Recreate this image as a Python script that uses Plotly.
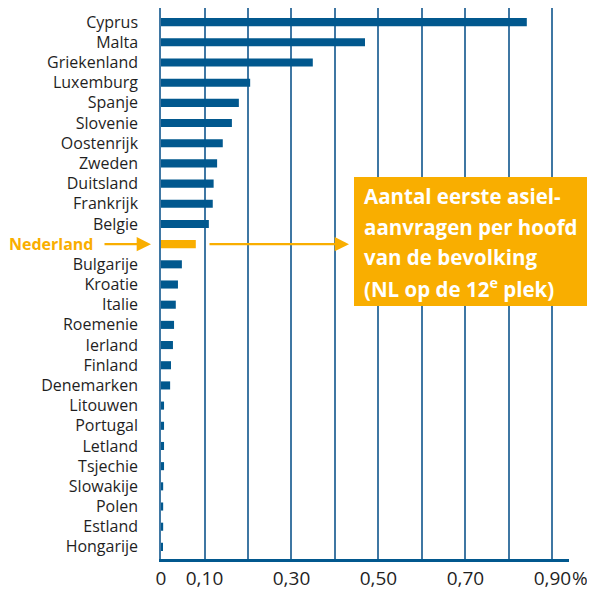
import plotly.graph_objects as go

countries = ["Cyprus", "Malta", "Griekenland", "Luxemburg", "Spanje", "Slovenie",
             "Oostenrijk", "Zweden", "Duitsland", "Frankrijk", "Belgie", "Nederland",
             "Bulgarije", "Kroatie", "Italie", "Roemenie", "Ierland", "Finland",
             "Denemarken", "Litouwen", "Portugal", "Letland", "Tsjechie", "Slowakije",
             "Polen", "Estland", "Hongarije"]
values = [0.841, 0.469, 0.349, 0.205, 0.179, 0.163,
          0.142, 0.129, 0.121, 0.119, 0.110, 0.080,
          0.048, 0.039, 0.034, 0.030, 0.0275, 0.023,
          0.021, 0.007, 0.007, 0.007, 0.007, 0.005,
          0.005, 0.005, 0.004]
tick_vals = [0, 0.1, 0.3, 0.5, 0.7, 0.9]
tick_text = ["0", "0,10", "0,30", "0,50", "0,70", "0,90"]
box_lines = ["Aantal eerste asiel-", "aanvragen per hoofd", "van de bevolking",
             "(NL op de 12<sup>e</sup> plek)"]
highlight = "Nederland"

BLUE = "#01588E"
GRID = "#3F77A3"
ORANGE = "#F9AE00"
TEXT = "#1f1f1f"
FONT = "Open Sans"

colors = [ORANGE if c == highlight else BLUE for c in countries]
ylabels = ["" if c == highlight else c for c in countries]

fig = go.Figure(go.Bar(
    x=values, y=countries, orientation="h", marker=dict(color=colors, line=dict(width=0)),
    width=0.4, hoverinfo="skip"))

# page has an 8px body margin: figure origin is at page (8, 8)
OFF = 8
W, H = 587, 582
L, R, T, B = 161 - OFF, 26, 0, 31
fig.update_layout(
    width=W, height=H, margin=dict(l=L, r=R, t=T, b=B),
    paper_bgcolor="white", plot_bgcolor="white", showlegend=False,
    font=dict(family=FONT, color=TEXT, size=16),
    xaxis=dict(range=[0, 0.938], tickvals=tick_vals, ticktext=tick_text,
               showgrid=True, gridcolor=GRID, gridwidth=1.5, zeroline=False,
               showline=True, linecolor=BLUE, linewidth=2.5, ticks="",
               tickfont=dict(size=19, family=FONT, color=TEXT),
               minor=dict(dtick=0.1, tick0=0, showgrid=True, gridcolor=GRID, gridwidth=1.5)),
    yaxis=dict(categoryorder="array", categoryarray=countries,
               tickvals=countries, ticktext=ylabels,
               range=[26.6, -0.7], showgrid=False, zeroline=False,
               showline=True, linecolor=GRID, linewidth=1.5, ticks="",
               ticklabelstandoff=18, tickfont=dict(size=16, family=FONT, color=TEXT)),
)

pw, ph = W - L - R, H - T - B
def px_x(p):
    return (p - OFF - L) / pw
def px_y(p):
    return (H - B - (p - OFF)) / ph

# "%" after last tick label
fig.add_annotation(x=0.9, xref="x", y=0, yref="paper", yshift=-19, xshift=28,
                   text="%", showarrow=False, font=dict(size=19, family=FONT, color=TEXT),
                   yanchor="middle")

# highlighted label
fig.add_annotation(xref="paper", yref="y", x=px_x(96), y=highlight, xanchor="right",
                   yanchor="middle", text=f"<b>{highlight}</b>", showarrow=False,
                   font=dict(size=16, family=FONT, color=ORANGE))

# orange box
fig.add_shape(type="rect", xref="paper", yref="paper",
              x0=px_x(354), x1=px_x(590), y0=px_y(306), y1=px_y(177),
              fillcolor=ORANGE, line=dict(width=0), layer="above")
for i, line in enumerate(box_lines):
    fig.add_annotation(xref="paper", yref="paper", x=px_x(362), y=px_y(196 + 30.5 * i),
                       text=f"<b>{line}</b>", showarrow=False, xanchor="left",
                       yanchor="middle", font=dict(size=20.5, family=FONT, color="white"))

# arrows
fig.add_annotation(xref="paper", yref="y", x=px_x(151), y=highlight, ax=-48, ay=0,
                   text="", showarrow=True, arrowhead=2, arrowsize=1.3, arrowwidth=2.2,
                   arrowcolor=ORANGE)
fig.add_annotation(xref="paper", yref="y", x=px_x(349), y=highlight, ax=-141, ay=0,
                   text="", showarrow=True, arrowhead=2, arrowsize=1.3, arrowwidth=2.2,
                   arrowcolor=ORANGE)

fig.write_html("out.html")
